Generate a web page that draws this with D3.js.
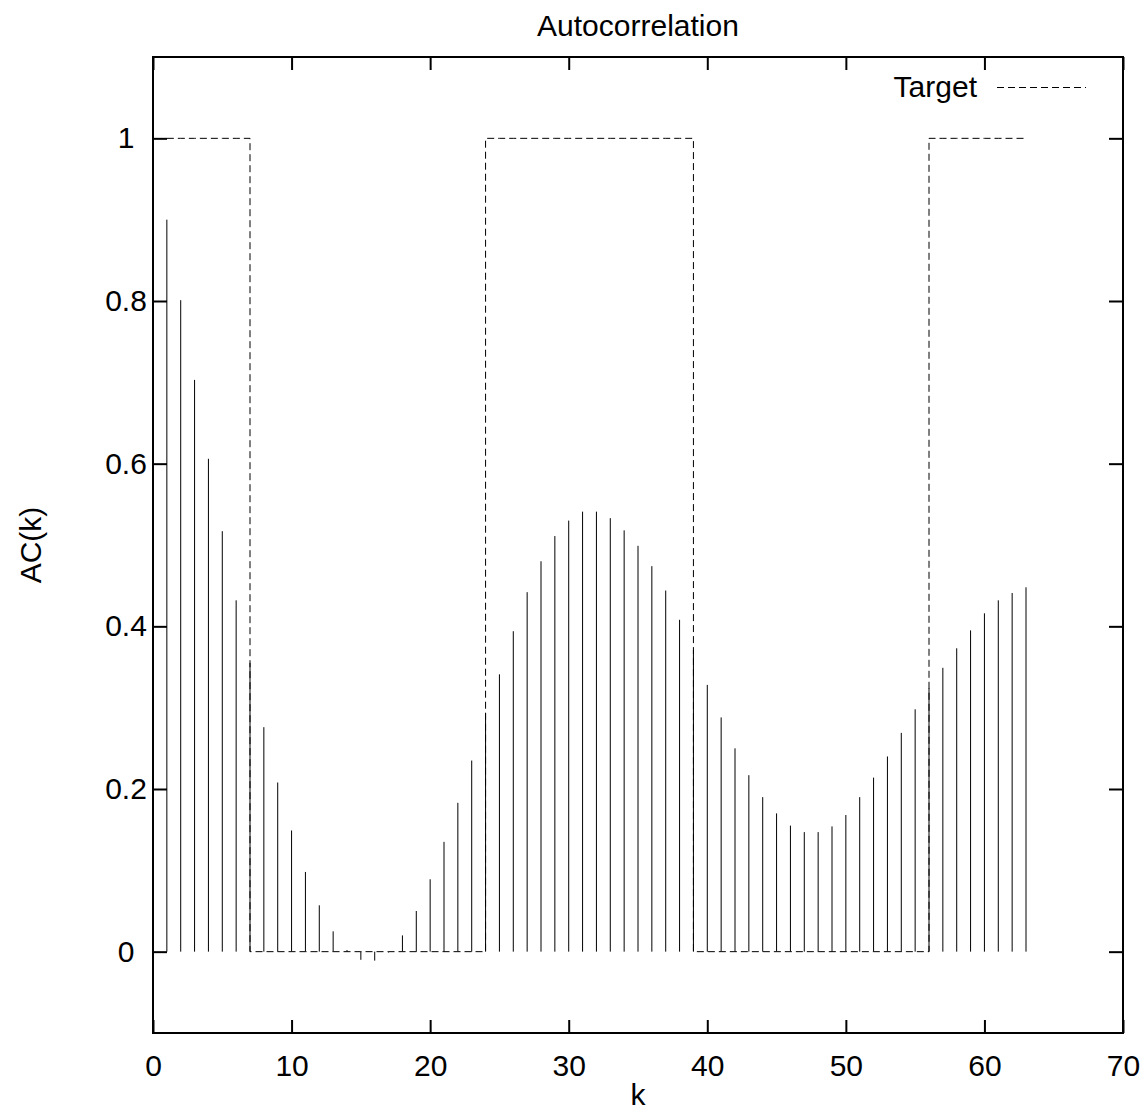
<!DOCTYPE html>
<html>
<head>
<meta charset="utf-8">
<script src="https://cdn.jsdelivr.net/npm/d3@7"></script>
<style>
  body { margin: 0; background: #fff; }
  text { font-family: "Liberation Sans", Arial, sans-serif; }
</style>
</head>
<body>
<div id="chart"></div>
<script>
"use strict";

// lag k
const kValues = [1, 2, 3, 4, 5, 6, 7, 8, 9, 10, 11, 12, 13, 14, 15, 16, 17, 18, 19, 20,
  21, 22, 23, 24, 25, 26, 27, 28, 29, 30, 31, 32, 33, 34, 35, 36, 37, 38, 39, 40,
  41, 42, 43, 44, 45, 46, 47, 48, 49, 50, 51, 52, 53, 54, 55, 56, 57, 58, 59, 60,
  61, 62, 63];

// AC(k)
const acValues = [0.900, 0.801, 0.703, 0.606, 0.517, 0.432, 0.355, 0.276, 0.208, 0.149,
  0.098, 0.057, 0.025, 0.002, -0.010, -0.011, -0.001, 0.020, 0.050, 0.089,
  0.135, 0.183, 0.235, 0.293, 0.341, 0.394, 0.442, 0.480, 0.511, 0.530,
  0.541, 0.541, 0.533, 0.518, 0.499, 0.474, 0.444, 0.408, 0.371, 0.328,
  0.288, 0.250, 0.217, 0.190, 0.170, 0.155, 0.147, 0.147, 0.154, 0.168,
  0.190, 0.214, 0.240, 0.269, 0.298, 0.324, 0.349, 0.373, 0.395, 0.416,
  0.432, 0.441, 0.448];

// target (drawn as steps)
const targetValues = [1, 1, 1, 1, 1, 1, 0, 0, 0, 0, 0, 0, 0, 0, 0, 0, 0, 0, 0, 0,
  0, 0, 0, 1, 1, 1, 1, 1, 1, 1, 1, 1, 1, 1, 1, 1, 1, 1, 0, 0,
  0, 0, 0, 0, 0, 0, 0, 0, 0, 0, 0, 0, 0, 0, 0, 1, 1, 1, 1, 1,
  1, 1, 1];

const xTicks = [0, 10, 20, 30, 40, 50, 60, 70];
const yTicks = [0, 0.2, 0.4, 0.6, 0.8, 1];

const size = {
  width: 1148,
  height: 1111,
  left: 153,
  right: 1123,
  top: 57,
  bottom: 1033,
  font: 30
};

let svg = d3.select("#chart")
  .append("svg")
  .attr("width", size.width)
  .attr("height", size.height);

let xScale = d3.scaleLinear().domain([0, 70]).range([size.left, size.right]);
let yScale = d3.scaleLinear().domain([-0.1, 1.1]).range([size.bottom, size.top]);

drawAxes();
plotData();
makeLabels();

function drawAxes() {
  // bottom with labels
  let bottom = svg.append("g")
    .attr("transform", "translate(0," + size.bottom + ")")
    .call(d3.axisBottom(xScale).tickValues(xTicks).tickFormat(d3.format("d"))
      .tickSize(-13).tickSizeOuter(0).tickPadding(22));
  // top mirror
  let top = svg.append("g")
    .attr("transform", "translate(0," + size.top + ")")
    .call(d3.axisTop(xScale).tickValues(xTicks).tickFormat("")
      .tickSize(-13).tickSizeOuter(0));
  // left with labels (gnuplot centres them)
  let left = svg.append("g")
    .attr("transform", "translate(" + size.left + ",0)")
    .call(d3.axisLeft(yScale).tickValues(yTicks).tickFormat(d3.format("~g"))
      .tickSize(-14).tickSizeOuter(0).tickPadding(27));
  left.selectAll(".tick text").attr("text-anchor", "middle");
  // right mirror
  let right = svg.append("g")
    .attr("transform", "translate(" + size.right + ",0)")
    .call(d3.axisRight(yScale).tickValues(yTicks).tickFormat("")
      .tickSize(-14).tickSizeOuter(0));

  [bottom, top, left, right].forEach(function (g) {
    g.select(".domain").remove();
    g.selectAll(".tick line").attr("stroke", "#000").attr("stroke-width", 2);
    g.selectAll("text")
      .attr("fill", "#000")
      .style("font-size", size.font + "px")
      .style("font-family", "'Liberation Sans', Arial, sans-serif");
  });

  svg.append("rect")
    .attr("x", size.left)
    .attr("y", size.top)
    .attr("width", size.right - size.left)
    .attr("height", size.bottom - size.top)
    .attr("fill", "none")
    .attr("stroke", "#000")
    .attr("stroke-width", 2);
}

function plotData() {
  let data = kValues.map(function (k, i) {
    return { k: k, ac: acValues[i], target: targetValues[i] };
  });

  // impulses
  svg.selectAll(".impulse")
    .data(data)
    .enter()
    .append("line")
    .attr("class", "impulse")
    .attr("x1", function (d) { return xScale(d.k); })
    .attr("x2", function (d) { return xScale(d.k); })
    .attr("y1", yScale(0))
    .attr("y2", function (d) { return yScale(d.ac); })
    .attr("stroke", "#000")
    .attr("stroke-width", 1);

  // target steps
  let line = d3.line()
    .x(function (d) { return xScale(d.k); })
    .y(function (d) { return yScale(d.target); })
    .curve(d3.curveStepAfter);

  svg.append("path")
    .datum(data)
    .attr("d", line)
    .attr("fill", "none")
    .attr("stroke", "#000")
    .attr("stroke-width", 1)
    .attr("stroke-dasharray", "7,4");

  // legend
  svg.append("text")
    .attr("x", 977)
    .attr("y", 97)
    .attr("text-anchor", "end")
    .style("font-size", size.font + "px")
    .text("Target");
  svg.append("line")
    .attr("x1", 997)
    .attr("x2", 1086)
    .attr("y1", 87.5)
    .attr("y2", 87.5)
    .attr("stroke", "#000")
    .attr("stroke-width", 1)
    .attr("stroke-dasharray", "7,4");
}

function makeLabels() {
  svg.append("text")
    .attr("x", (size.left + size.right) / 2)
    .attr("y", 36)
    .attr("text-anchor", "middle")
    .style("font-size", size.font + "px")
    .text("Autocorrelation");

  svg.append("text")
    .attr("x", (size.left + size.right) / 2)
    .attr("y", 1105)
    .attr("text-anchor", "middle")
    .style("font-size", size.font + "px")
    .text("k");

  svg.append("text")
    .attr("transform", "translate(41," + ((size.top + size.bottom) / 2) + ") rotate(-90)")
    .attr("text-anchor", "middle")
    .style("font-size", size.font + "px")
    .text("AC(k)");
}
</script>
</body>
</html>
